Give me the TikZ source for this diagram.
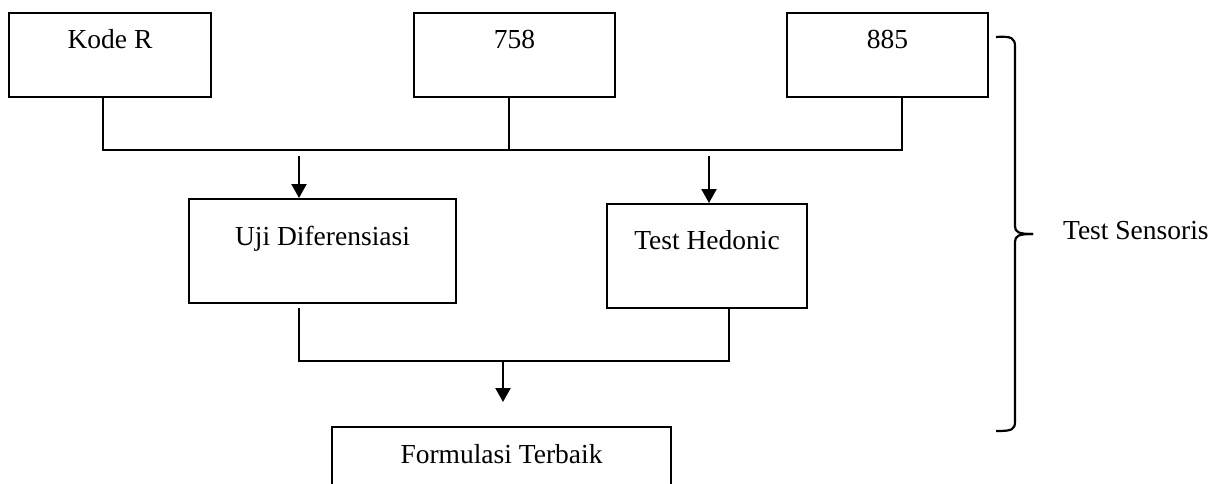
\documentclass[tikz,border=0pt]{standalone}
\usepackage{fontspec}
\setmainfont{Liberation Serif}
\usetikzlibrary{arrows.meta}

\begin{document}
\begin{tikzpicture}[x=1pt, y=-1pt, line width=2.2pt,
        box/.style={draw, anchor=north, inner xsep=0pt, inner ysep=0pt, font=\fontsize{27.5}{32}\selectfont},
        arr/.style={-{Triangle[width=15pt, length=14pt]}}]
                \useasboundingbox (0, 0) rectangle (1220, 483);
                \node [box, minimum width=202pt, text height=35pt, text depth=49pt] (koder) at (110, 12) {Kode R};
                \node [box, minimum width=201pt, text height=35pt, text depth=49pt] (b758) at (514.5, 12) {758};
                \node [box, minimum width=201pt, text height=35pt, text depth=49pt] (b885) at (887.5, 12) {885};
                \node [box, minimum width=267pt, text height=46pt, text depth=58pt] (uji) at (322.5, 198) {Uji Diferensiasi};
                \node [box, minimum width=200pt, text height=45pt, text depth=59pt] (hedonic) at (707, 203) {Test Hedonic};
                \node [box, minimum width=339pt, text height=36pt, text depth=60pt] (formulasi) at (501.5, 426) {Formulasi Terbaik};
                \node [anchor=base west, inner sep=0pt, font=\fontsize{27.5}{32}\selectfont] (sensoris) at (1062, 239) {Test Sensoris};
                \coordinate (busL) at (103, 150);
                \coordinate (busM) at (509, 150);
                \coordinate (busR) at (902, 150);
                \coordinate (a1) at (299, 156);
                \coordinate (a2) at (709, 156);
                \coordinate (jL) at (299, 361);
                \coordinate (jR) at (729, 361);
                \coordinate (jM) at (503, 361);
                \coordinate (a3) at (503, 402);
                \draw (koder.south -| busL) -- (busL) -- (busR) -- (b885.south -| busR);
                \draw (b758.south -| busM) -- (busM);
                \draw [arr] (a1) -- (a1 |- uji.north);
                \draw [arr] (a2) -- (a2 |- hedonic.north);
                \draw (uji.south -| jL) ++ (0, 4) -- (jL) -- (jR) -- (hedonic.south -| jR);
                \draw [arr] (jM) -- (a3);
                \draw (996, 37) .. controls (1012, 36) and (1015, 38) .. (1015, 47) -- (1015, 226) .. controls (1015, 232) and (1018, 234) .. (1033, 234);
                \draw (1033, 234) .. controls (1018, 234) and (1015, 236) .. (1015, 242) -- (1015, 421) .. controls (1015, 430) and (1012, 431) .. (996, 431);
            \end{tikzpicture}
\end{document}
